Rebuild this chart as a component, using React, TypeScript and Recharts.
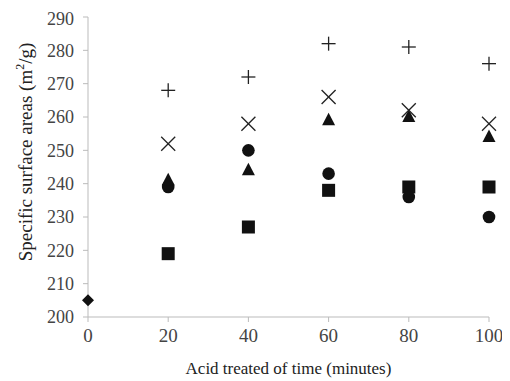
import React from "react";
import { ScatterChart, Scatter, XAxis, YAxis } from "recharts";

const times = [20, 40, 60, 80, 100];
const plusValues = [268, 272, 282, 281, 276];
const crossValues = [252, 258, 266, 262, 258];
const triangleValues = [241, 244, 259, 260, 254];
const circleValues = [239, 250, 243, 236, 230];
const squareValues = [219, 227, 238, 239, 239];
const diamondTimes = [0];
const diamondValues = [205];
const xTicks = [0, 20, 40, 60, 80, 100];
const yTicks = [200, 210, 220, 230, 240, 250, 260, 270, 280, 290];

const toData = (xs: number[], ys: number[]) => xs.map((x, i) => ({ x, y: ys[i] }));

const INK = "#111";
const FONT = "Liberation Serif, Times New Roman, serif";

const Square = (p: any) => <rect x={p.cx - 6.5} y={p.cy - 6.5} width={13} height={13} fill={INK} />;
const Circle = (p: any) => <circle cx={p.cx} cy={p.cy} r={6.3} fill={INK} />;
const Triangle = (p: any) => (
  <polygon points={`${p.cx},${p.cy - 7.5} ${p.cx - 6.5},${p.cy + 5} ${p.cx + 6.5},${p.cy + 5}`} fill={INK} />
);
const Diamond = (p: any) => (
  <polygon points={`${p.cx},${p.cy - 6} ${p.cx + 6},${p.cy} ${p.cx},${p.cy + 6} ${p.cx - 6},${p.cy}`} fill={INK} />
);
const Cross = (p: any) => (
  <g stroke="#222" strokeWidth={1.3}>
    <line x1={p.cx - 7} y1={p.cy - 7} x2={p.cx + 7} y2={p.cy + 7} />
    <line x1={p.cx - 7} y1={p.cy + 7} x2={p.cx + 7} y2={p.cy - 7} />
  </g>
);
const Plus = (p: any) => (
  <g stroke="#222" strokeWidth={1.3}>
    <line x1={p.cx - 7} y1={p.cy} x2={p.cx + 7} y2={p.cy} />
    <line x1={p.cx} y1={p.cy - 7} x2={p.cx} y2={p.cy + 7} />
  </g>
);

const YLabel = () => (
  <text
    x={0}
    y={0}
    transform="translate(24,144) rotate(-90)"
    textAnchor="middle"
    fontFamily={FONT}
    fontSize={19}
    fill="#222"
  >
    Specific surface areas (m
    <tspan dy={-8} fontSize={12}>2</tspan>
    <tspan dy={8}>/g)</tspan>
  </text>
);

export default function App() {
  return (
    <ScatterChart
      width={500}
      height={370}
      margin={{ top: 9, right: 19, bottom: 0, left: 0 }}
      style={{ fontFamily: FONT }}
    >
      <XAxis
        type="number"
        dataKey="x"
        domain={[0, 100]}
        ticks={xTicks}
        height={61}
        stroke="#bbb"
        tickSize={5}
        tick={{ fill: "#444", fontSize: 19, fontFamily: FONT, dy: 5 }}
        label={{
          value: "Acid treated of time (minutes)",
          position: "insideBottom",
          offset: 4,
          fill: "#222",
          fontSize: 17,
          fontFamily: FONT,
        }}
      />
      <YAxis
        type="number"
        dataKey="y"
        domain={[200, 290]}
        ticks={yTicks}
        width={80}
        stroke="#bbb"
        tickSize={5}
        tick={{ fill: "#444", fontSize: 18, fontFamily: FONT, dx: -7 }}
        label={<YLabel />}
      />
      <Scatter data={toData(diamondTimes, diamondValues)} shape={Diamond} isAnimationActive={false} />
      <Scatter data={toData(times, squareValues)} shape={Square} isAnimationActive={false} />
      <Scatter data={toData(times, circleValues)} shape={Circle} isAnimationActive={false} />
      <Scatter data={toData(times, triangleValues)} shape={Triangle} isAnimationActive={false} />
      <Scatter data={toData(times, crossValues)} shape={Cross} isAnimationActive={false} />
      <Scatter data={toData(times, plusValues)} shape={Plus} isAnimationActive={false} />
    </ScatterChart>
  );
}
